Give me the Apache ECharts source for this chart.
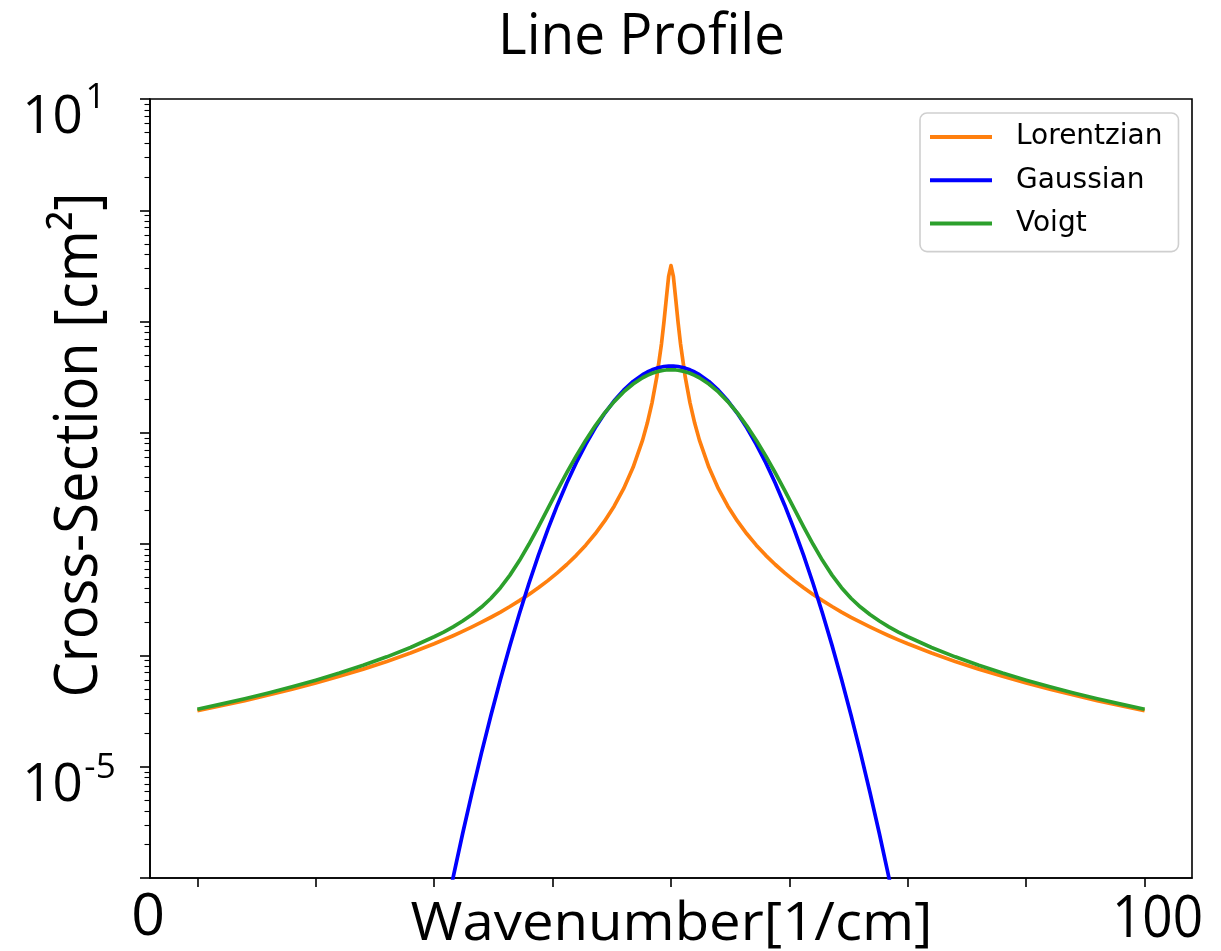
<!DOCTYPE html>
<html><head><meta charset="utf-8">
<script src="https://cdn.jsdelivr.net/npm/echarts@6/dist/echarts.min.js"></script>
<style>html,body{margin:0;padding:0;background:#fff}#c{width:1221px;height:951px}</style>
</head><body><div id="c"></div>
<script>
// ---- data ----
const wavenumber = [0,2.5,5,7.5,10,12.5,15,17.5,20,22.5,25,26,27,28,29,30,31,32,33,34,35,36,37,38,39,40,41,42,43,44,45,46,47,47.5,48,48.5,49,49.25,49.5,49.75,50,
  50.25,50.5,50.75,51,51.5,52,52.5,53,54,55,56,57,58,59,60,61,62,63,64,65,66,67,68,69,70,71,72,73,74,75,77.5,80,82.5,85,87.5,90,92.5,95,97.5,100];
const lorentzian = [3.183e-5,3.5266e-5,3.929e-5,4.4051e-5,4.973e-5,5.6578e-5,6.495e-5,7.5322e-5,8.840e-5,1.05192e-4,1.2727e-4,1.3810e-4,1.5036e-4,1.6433e-4,1.8035e-4,1.9882e-4,2.2028e-4,2.4542e-4,2.7512e-4,3.1055e-4,3.5328e-4,4.0549e-4,4.7018e-4,5.5167e-4,6.5631e-4,7.9379e-4,9.7941e-4,1.2386e-3,1.6158e-3,2.1952e-3,3.1516e-3,4.8971e-3,8.6030e-3,1.2243e-2,1.8724e-2,3.1831e-2,6.3662e-2,9.7941e-2,0.159155,0.25465,0.31831,
  0.25465,0.159155,9.7941e-2,6.3662e-2,3.1831e-2,1.8724e-2,1.2243e-2,8.6030e-3,4.8971e-3,3.1516e-3,2.1952e-3,1.6158e-3,1.2386e-3,9.7941e-4,7.9379e-4,6.5631e-4,5.5167e-4,4.7018e-4,4.0549e-4,3.5328e-4,3.1055e-4,2.7512e-4,2.4542e-4,2.2028e-4,1.9882e-4,1.8035e-4,1.6433e-4,1.5036e-4,1.3810e-4,1.2727e-4,1.05192e-4,8.840e-5,7.5322e-5,6.495e-5,5.6578e-5,4.973e-5,4.4051e-5,3.929e-5,3.5266e-5,3.183e-5];
const gaussian = [null,null,null,null,null,null,null,null,null,null,1.487e-7,3.962e-7,1.014e-6,2.499e-6,5.890e-6,1.3383e-5,2.9187e-5,6.119e-5,1.2307e-4,2.3841e-4,4.4318e-4,7.9154e-4,1.3583e-3,2.2395e-3,3.5475e-3,5.3991e-3,7.8950e-3,1.1092e-2,1.4973e-2,1.9419e-2,2.4197e-2,2.8969e-2,3.3322e-2,3.5207e-2,3.6827e-2,3.8139e-2,3.9104e-2,3.9448e-2,3.9695e-2,3.9844e-2,3.9894e-2,
  3.9844e-2,3.9695e-2,3.9448e-2,3.9104e-2,3.8139e-2,3.6827e-2,3.5207e-2,3.3322e-2,2.8969e-2,2.4197e-2,1.9419e-2,1.4973e-2,1.1092e-2,7.8950e-3,5.3991e-3,3.5475e-3,2.2395e-3,1.3583e-3,7.9154e-4,4.4318e-4,2.3841e-4,1.2307e-4,6.119e-5,2.9187e-5,1.3383e-5,5.890e-6,2.499e-6,1.014e-6,3.962e-7,1.487e-7,null,null,null,null,null,null,null,null,null,null];
const voigt = [3.2837e-5,3.6508e-5,4.0851e-5,4.6020e-5,5.2270e-5,5.9904e-5,6.9411e-5,8.1439e-5,9.7083e-5,1.17943e-4,1.4711e-4,1.6200e-4,1.8060e-4,2.0376e-4,2.3303e-4,2.7195e-4,3.2657e-4,4.0646e-4,5.2673e-4,7.1183e-4,9.9684e-4,1.4321e-3,2.0846e-3,3.0372e-3,4.3808e-3,6.2094e-3,8.5961e-3,1.1574e-2,1.5114e-2,1.9098e-2,2.3322e-2,2.7493e-2,3.1264e-2,3.2820e-2,3.4281e-2,3.5390e-2,3.6235e-2,3.6531e-2,3.6742e-2,3.6869e-2,3.6911e-2,
  3.6869e-2,3.6742e-2,3.6531e-2,3.6235e-2,3.5390e-2,3.4281e-2,3.2820e-2,3.1264e-2,2.7493e-2,2.3322e-2,1.9098e-2,1.5114e-2,1.1574e-2,8.5961e-3,6.2094e-3,4.3808e-3,3.0372e-3,2.0846e-3,1.4321e-3,9.9684e-4,7.1183e-4,5.2673e-4,4.0646e-4,3.2657e-4,2.7195e-4,2.3303e-4,2.0376e-4,1.8060e-4,1.6200e-4,1.4711e-4,1.17943e-4,9.7083e-5,8.1439e-5,6.9411e-5,5.9904e-5,5.2270e-5,4.6020e-5,4.0851e-5,3.6508e-5,3.2837e-5];
const seriesNames = ['Lorentzian','Gaussian','Voigt'];
const xTicks = [0,12.5,25,37.5,50,62.5,75,87.5,100];
const yMajorTicks = [1e-6,1e-5,1e-4,1e-3,1e-2,1e-1,1,10];
const titleText = 'Line Profile';
const xAxisName = 'Wavenumber[1/cm]';
const yAxisName = 'Cross-Section [cm\u00B2]';
const xEndLabels = ['0','100'];
const yLabelTop = ['10','1'];
const yLabelBottom = ['10','-5'];

// ---- build ----
const yMinorTicks = [];
for (let k = -6; k <= 0; k++) for (let m = 2; m <= 9; m++) yMinorTicks.push(m * Math.pow(10, k));
const pairs = arr => wavenumber.map((x, i) => [x, arr[i] == null ? '-' : arr[i]]);

const mctx = document.createElement('canvas').getContext('2d');
function fit(text, size, fam, target) { mctx.font = size + 'px ' + fam; return target / mctx.measureText(text).width; }
const FAM = '"Open Sans"';
function txt(text, x, y, size, o) {
  o = o || {};
  return { type: 'text', x: x, y: y, rotation: o.rot || 0, scaleX: o.sx || 1, z: 100,
    style: { text: text, fontSize: size, fontFamily: FAM, fill: '#000', align: o.align || 'center', verticalAlign: 'middle' } };
}

const chart = echarts.init(document.getElementById('c'), null, { renderer: 'canvas' });
const axisLineStyle = { color: '#000', width: 1.6 };
const LW = 3.7;
const option = {
  animation: false,
  backgroundColor: '#fff',
  grid: { left: 150, top: 99, width: 1042, height: 779, show: true, borderColor: '#000', borderWidth: 1.6, backgroundColor: 'transparent' },
  xAxis: { type: 'value', min: -5, max: 105,
    axisLine: { show: true, onZero: false, lineStyle: axisLineStyle },
    axisTick: { show: true, customValues: xTicks, length: 9, lineStyle: axisLineStyle },
    axisLabel: { show: false }, splitLine: { show: false } },
  yAxis: [
    { type: 'log', logBase: 10, min: 1e-6, max: 10,
      axisLine: { show: true, onZero: false, lineStyle: axisLineStyle },
      axisTick: { show: true, customValues: yMajorTicks, length: 10, lineStyle: axisLineStyle },
      axisLabel: { show: false }, splitLine: { show: false }, minorTick: { show: false } },
    { type: 'log', logBase: 10, min: 1e-6, max: 10, position: 'left', offset: 0,
      axisLine: { show: false, onZero: false },
      axisTick: { show: true, customValues: yMinorTicks, length: 5.5, lineStyle: { color: '#000', width: 1.1 } },
      axisLabel: { show: false }, splitLine: { show: false } }
  ],
  legend: {
    data: seriesNames, orient: 'vertical', left: 920, top: 113, icon: 'rect',
    padding: [10, 16, 14, 10], itemWidth: 62, itemHeight: 4, itemGap: 15.3,
    backgroundColor: '#fff', borderColor: '#cfcfcf', borderWidth: 1.6, borderRadius: 7,
    textStyle: { fontFamily: '"DejaVu Sans"', fontSize: 28, color: '#000', lineHeight: 28, padding: [0, 0, 0, 19] }
  },
  series: [
    { name: seriesNames[0], type: 'line', data: pairs(lorentzian), symbol: 'none', clip: true,
      lineStyle: { color: '#ff7f0e', width: LW, join: 'round' }, itemStyle: { color: '#ff7f0e' } },
    { name: seriesNames[1], type: 'line', data: pairs(gaussian), symbol: 'none', clip: true,
      lineStyle: { color: '#0000ff', width: LW, join: 'round' }, itemStyle: { color: '#0000ff' } },
    { name: seriesNames[2], type: 'line', data: pairs(voigt), symbol: 'none', clip: true,
      lineStyle: { color: '#2ca02c', width: LW, join: 'round' }, itemStyle: { color: '#2ca02c' } }
  ],
  graphic: [
    txt(titleText, 641.5, 38, 56, { sx: fit(titleText, 56, FAM, 287) }),
    txt(xAxisName, 671.5, 925, 53, { sx: fit(xAxisName, 53, FAM, 522) }),
    txt(xEndLabels[0], 148, 918, 59),
    txt(xEndLabels[1], 1157.5, 920, 59, { sx: 0.9 }),
    txt(yAxisName, 80, 445, 60, { rot: Math.PI / 2, sx: fit(yAxisName, 60, FAM, 505) }),
    txt(yLabelTop[0], 52.5, 118, 53),
    txt(yLabelTop[1], 95.5, 98, 35),
    txt(yLabelBottom[0], 52.5, 786.4, 53),
    txt(yLabelBottom[1], 100, 768, 35)
  ]
};
chart.setOption(option);
</script></body></html>
